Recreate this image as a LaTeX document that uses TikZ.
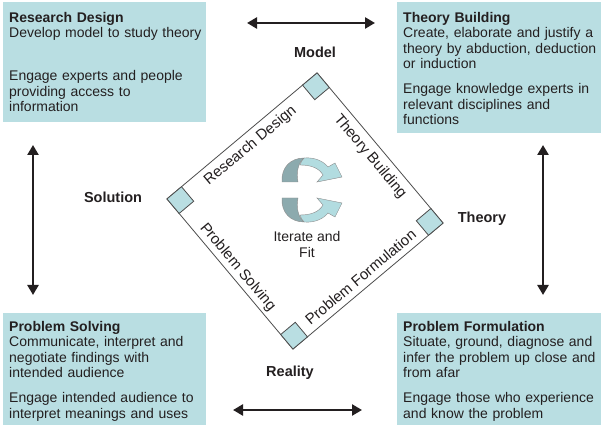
\documentclass[tikz,border=0pt]{standalone}
\usepackage{fontspec}
\setmainfont{Liberation Sans}
\usetikzlibrary{arrows.meta}

\definecolor{boxteal}{RGB}{185,222,226}
\definecolor{icondark}{RGB}{140,170,174}
\definecolor{iconlight}{RGB}{178,220,224}
\definecolor{ink}{RGB}{35,31,32}

\begin{document}
\begin{tikzpicture}[
    x=1pt, y=1pt,
    color=ink,
    box/.style={fill=boxteal,inner sep=0pt,anchor=north west},
    boxtext/.style={anchor=north west,inner sep=0pt,text width=196pt,align=left,font=\fontsize{14}{15.5}\selectfont},
    dimlabel/.style={font=\bfseries\fontsize{14.5}{16}\selectfont},
    dbl/.style={line width=2.9pt,{Triangle[length=10pt,width=11pt]}-{Triangle[length=10pt,width=11pt]}},
    sidelabel/.style={font=\fontsize{15}{17}\selectfont,inner sep=6.5pt,text height=10.7pt,text depth=0pt},
    cornerbox/.style={draw=black!70,fill=boxteal,line width=0.8pt,minimum size=19pt,inner sep=0pt,rotate=40},
    icon/.style={draw=black!45,line width=0.4pt},
  ]

  \useasboundingbox (0,0) rectangle (601,425);

  % the four boxes
  \node[box,minimum width=203pt,minimum height=120pt] (rd) at (3,423) {};
  \node[box,minimum width=204pt,minimum height=131pt] (tb) at (397,423) {};
  \node[box,minimum width=203pt,minimum height=112pt] (ps) at (3,112) {};
  \node[box,minimum width=204pt,minimum height=112pt] (pf) at (397,112) {};

  \node[boxtext] (rd-text) at ([shift={(6,-10)}]rd.north west)
    {\textbf{Research Design}\\Develop model to study theory\\[27.5pt]Engage experts and people\\providing access to\\information};
  \node[boxtext] (tb-text) at ([shift={(6,-10)}]tb.north west)
    {\textbf{Theory Building}\\Create, elaborate and justify a\\theory by abduction, deduction\\or induction\\[9.5pt]Engage knowledge experts in\\relevant disciplines and\\functions};
  \node[boxtext] (ps-text) at ([shift={(6,-8)}]ps.north west)
    {\textbf{Problem Solving}\\Communicate, interpret and\\negotiate findings with\\intended audience\\[9.5pt]Engage intended audience to\\interpret meanings and uses};
  \node[boxtext] (pf-text) at ([shift={(6,-8)}]pf.north west)
    {\textbf{Problem Formulation}\\Situate, ground, diagnose and\\infer the problem up close and\\from afar\\[9.5pt]Engage those who experience\\and know the problem};

  % labels and double arrows
  \node[dimlabel] (model) at (315,373) {Model};
  \node[dimlabel] (reality) at (290,52) {Reality};
  \node[dimlabel] (solution) at (113,228) {Solution};
  \node[dimlabel] (theory) at (482,206) {Theory};

  \coordinate (model-w) at (247,402);
  \coordinate (model-e) at (375,402);
  \coordinate (reality-w) at (233,15);
  \coordinate (reality-e) at (362,15);
  \coordinate (solution-n) at (33,280);
  \coordinate (solution-s) at (33,130);
  \coordinate (theory-n) at (543,280);
  \coordinate (theory-s) at (543,130);

  \draw[dbl] (model-w) -- (model-e);
  \draw[dbl] (reality-w) -- (reality-e);
  \draw[dbl] (solution-n) -- (solution-s);
  \draw[dbl] (theory-n) -- (theory-s);

  % the tilted square
  \node[draw=black!70,line width=0.8pt,minimum size=196pt,inner sep=0pt,rotate=40] (diamond) at (305,214) {};

  \foreach \a/\i in {north west/1,north east/2,south east/3,south west/4}
  {
    \node[cornerbox,anchor=\a] (sq-\i) at (diamond.\a) {};
  }

  \node[sidelabel,rotate=40,anchor=north] (rd-side) at (diamond.north) {Research Design};
  \node[sidelabel,rotate=-50,anchor=north] (tb-side) at (diamond.east) {Theory Building};
  \node[sidelabel,rotate=40,anchor=south] (pf-side) at (diamond.south) {Problem Formulation};
  \node[sidelabel,rotate=-50,anchor=south] (ps-side) at (diamond.west) {Problem Solving};

  % cycle icon, upper half and its mirror
  \foreach \s/\y in {1/233,-1/237}
  {
    \begin{scope}[shift={(311,\y)},yscale=\s]
      \filldraw[icon,fill=iconlight] (-7,34) .. controls (5,35) and (13,30) .. (17,25) -- (24,29) -- (31,15) -- (6,10) -- (12,17)
        .. controls (8,24) and (0,27) .. (-11,27) .. controls (-10,30) and (-9,32) .. (-7,34) -- cycle;
      \filldraw[icon,fill=icondark] (-29,10) .. controls (-30,25) and (-20,34) .. (-7,34) .. controls (-13,29) and (-15,19) .. (-13,10) -- cycle;
    \end{scope}
  }

  \node[font=\fontsize{14}{16}\selectfont,align=center] (iterate) at (307,181) {Iterate and\\Fit};

\end{tikzpicture}
\end{document}
